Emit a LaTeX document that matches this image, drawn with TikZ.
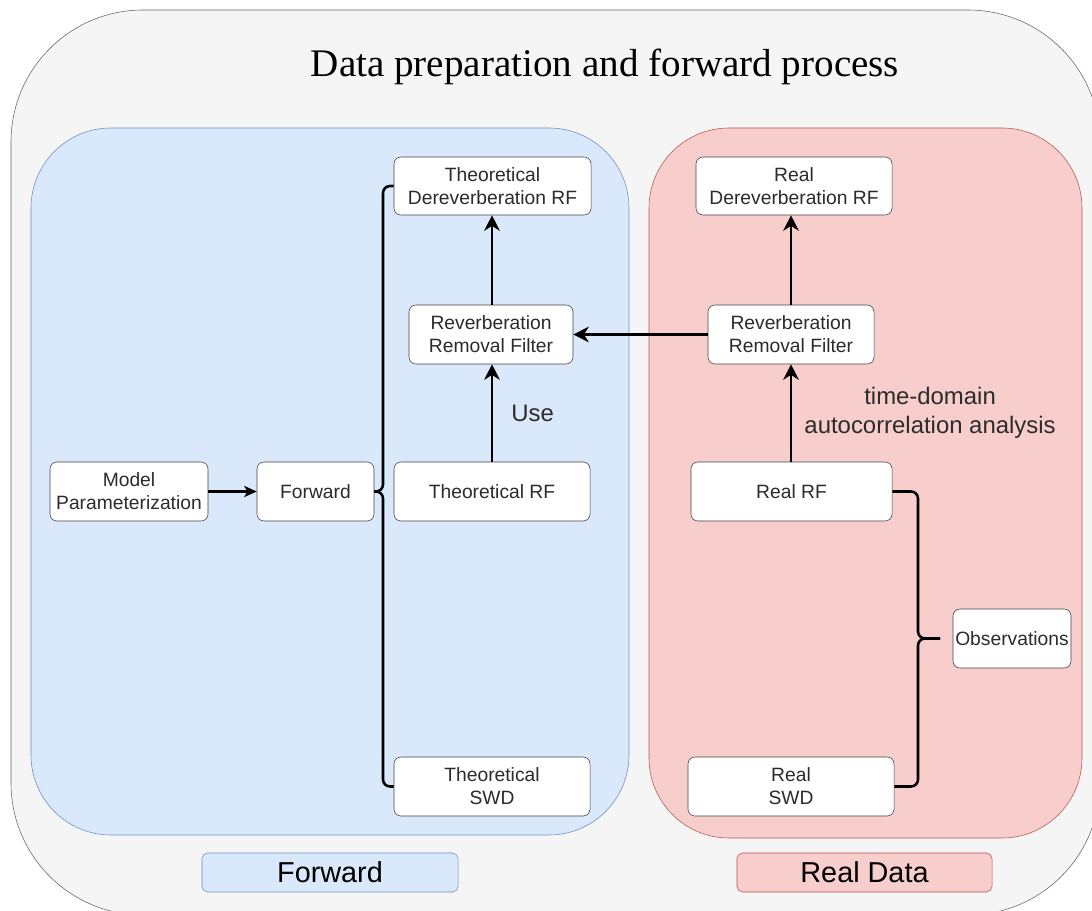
\documentclass[tikz,border=0pt]{standalone}
\usepackage{fontspec}
\setmainfont{Liberation Sans}
\newfontfamily\titlefont{Liberation Serif}
\usetikzlibrary{arrows.meta,positioning}
\definecolor{outerfill}{HTML}{F5F5F5}
\definecolor{outerline}{HTML}{666666}
\definecolor{fwdfill}{HTML}{DAE8FC}
\definecolor{fwdline}{HTML}{6C8EBF}
\definecolor{realfill}{HTML}{F8CECC}
\definecolor{realline}{HTML}{B85450}
\definecolor{boxline}{HTML}{404040}
\definecolor{boxtext}{HTML}{2B2B2B}

\begin{document}
\begin{tikzpicture}[x=0.025cm,y=-0.025cm,
  box/.style={draw=boxline,fill=white,rounded corners=5pt,align=center,
    text=boxtext,inner sep=0pt,minimum height=1.475cm,
    font=\fontsize{13.7}{16.3}\selectfont},
  link/.style={-{Stealth[length=11pt,width=11pt,inset=3.5pt]},line width=2.1pt},
  brace/.style={line width=1.8pt,rounded corners=5pt},
  note/.style={inner sep=0pt,align=center,text=boxtext,
    font=\fontsize{17}{21}\selectfont},
  tag/.style={rounded corners=4pt,minimum height=0.975cm,
    font=\fontsize{20.5}{24}\selectfont}]
\useasboundingbox (0,0) rectangle (1092,911);
\draw[outerline,fill=outerfill,rounded corners=3.3cm] (11,10) rectangle (1100,915);
\draw[fwdline,fill=fwdfill,rounded corners=2cm] (31,128) rectangle (629,835);
\draw[realline,fill=realfill,rounded corners=2cm] (649,128) rectangle (1082,838);

\node[font=\titlefont\fontsize{27.8}{32}\selectfont] (title) at (605,67)
  {Data preparation and forward process};

\node[box,minimum width=3.95cm] (par) at (129,491.5) {Model\\Parameterization};
\node[box,minimum width=2.925cm] (fwd) at (315.5,491.5) {Forward};
\node[box,minimum width=4.9cm] (theorf) at (492,491.5) {Theoretical RF};
\node[box,minimum width=4.1cm] (rrfl) at (491,334.5) {Reverberation\\Removal Filter};
\node[box,minimum width=4.925cm,minimum height=1.45cm] (theoder) at (492.5,186)
  {Theoretical\\Dereverberation RF};
\node[box,minimum width=4.9cm] (theoswd) at (492,786.5) {Theoretical\\SWD};

\node[box,minimum width=4.9cm,minimum height=1.45cm] (realder) at (794,186)
  {Real\\Dereverberation RF};
\node[box,minimum width=4.15cm] (rrfr) at (791,334.5) {Reverberation\\Removal Filter};
\node[box,minimum width=5.025cm] (realrf) at (791.5,491.5) {Real RF};
\node[box,minimum width=5.15cm] (realswd) at (791,786.5) {Real\\SWD};
\node[box,minimum width=2.95cm] (obs) at (1012,638.5) {Observations};

\node[tag,draw=fwdline,fill=fwdfill,minimum width=6.4cm] (fwdtag) at (330,872.5) {Forward};
\node[tag,draw=realline,fill=realfill,minimum width=6.375cm] (realtag) at (864.5,872.5) {Real Data};

\draw[-{Stealth[length=9pt,width=8pt,inset=2.5pt]},line width=1.5pt] (par) -- (fwd);
\draw[link] (theorf.north) -- (theorf.north |- rrfl.south)
  node[note,midway,right=0.45cm] {Use};
\draw[link] (theorf.north |- rrfl.north) -- (theorf.north |- theoder.south);
\draw[link] (rrfr) -- (rrfl);
\draw[link] (rrfr.south |- realrf.north) -- (rrfr.south)
  node[note,midway,right=0.3cm] {time-domain\\autocorrelation analysis};
\draw[link] (rrfr.north) -- (rrfr.north |- realder.south);

\draw[brace] (theoder.west) -- (383,186) -- (383,491.5) -- (fwd.east);
\draw[brace] (theoswd.west) -- (383,786.5) -- (383,491.5) -- (fwd.east);
\coordinate (obstip) at (940,638.5);
\draw[brace] (realrf.east) -- (918,491.5) -- (918,638.5) -- (obstip);
\draw[brace] (realswd.east) -- (918,786.5) -- (918,638.5) -- (obstip);
\end{tikzpicture}
\end{document}
